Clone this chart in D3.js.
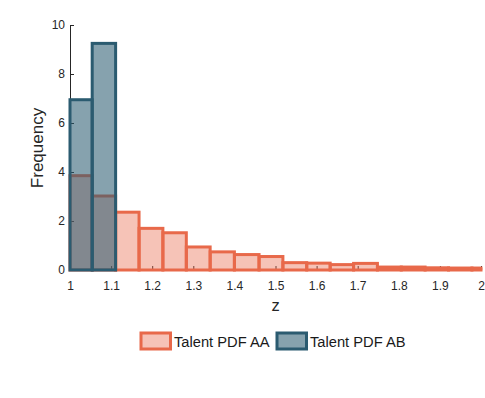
<!DOCTYPE html>
<html>
<head>
<meta charset="utf-8">
<script src="https://cdn.jsdelivr.net/npm/d3@7/dist/d3.min.js"></script>
<style>
  html, body { margin: 0; padding: 0; background: #fff; }
  svg { display: block; font-family: "Liberation Sans", Arial, Helvetica, sans-serif; }
</style>
</head>
<body>
<svg id="chart" width="485" height="398"></svg>
<script>
// ---- data ----
const binEdges = [1.0, 1.054, 1.111, 1.168, 1.226, 1.283, 1.341, 1.400, 1.460, 1.518,
                  1.576, 1.633, 1.690, 1.748, 1.806, 1.864, 1.921, 1.978, 2.035];
const countsAA = [3.85, 3.02, 2.36, 1.70, 1.52, 0.94, 0.74, 0.63, 0.55, 0.30,
                  0.28, 0.22, 0.27, 0.12, 0.12, 0.09, 0.08, 0.08];
const countsAB = [6.95, 9.25, 0, 0, 0, 0, 0, 0, 0, 0,
                  0, 0, 0, 0, 0, 0, 0, 0];
const xTicks = [1, 1.1, 1.2, 1.3, 1.4, 1.5, 1.6, 1.7, 1.8, 1.9, 2];
const yTicks = [0, 2, 4, 6, 8, 10];
const seriesNames = ["Talent PDF AA", "Talent PDF AB"];

const colAA = "#e8694a", colAB = "#2b5b70";
const alphaAA = 0.4, alphaAB = 0.57;

const svg = d3.select("#chart");
svg.append("rect").attr("width", 485).attr("height", 398).attr("fill", "#fff");

const x = d3.scaleLinear().domain([1, 2]).range([70, 481]);
const y = d3.scaleLinear().domain([0, 10]).range([270, 25]);

// axes (drawn under the data, MATLAB-style inward ticks)
const axisColor = "#262626";
const gy = svg.append("g").attr("transform", `translate(${x(1)},0)`)
  .call(d3.axisLeft(y).tickValues(yTicks).tickSizeInner(-4).tickSizeOuter(0).tickPadding(5));
const gx = svg.append("g").attr("transform", `translate(0,${y(0)})`)
  .call(d3.axisBottom(x).tickValues(xTicks).tickSizeInner(-4).tickSizeOuter(0).tickPadding(11)
        .tickFormat(d => d3.format("~g")(d)));
[gx, gy].forEach(g => {
  g.selectAll("path.domain").attr("stroke", axisColor).attr("stroke-width", 1);
  g.selectAll(".tick line").attr("stroke", axisColor).attr("stroke-width", 1);
  g.selectAll(".tick text").attr("fill", axisColor).attr("font-size", "12px")
    .attr("font-family", "Liberation Sans, Arial, sans-serif");
});

// clip to axes horizontally
svg.append("clipPath").attr("id", "clip")
  .append("rect").attr("x", 60).attr("y", 0).attr("width", 481 - 60 + 1.5).attr("height", 300);

const plot = svg.append("g").attr("clip-path", "url(#clip)");

function drawHist(counts, col, alpha) {
  const data = counts.map((c, i) => ({ x0: binEdges[i], x1: binEdges[i + 1], c }));
  plot.append("g").selectAll("rect").data(data).join("rect")
    .attr("x", d => x(d.x0))
    .attr("width", d => x(d.x1) - x(d.x0))
    .attr("y", d => y(d.c))
    .attr("height", d => y(0) - y(d.c))
    .attr("fill", col).attr("fill-opacity", alpha)
    .attr("stroke", col).attr("stroke-width", 3);
}
drawHist(countsAA, colAA, alphaAA);
drawHist(countsAB, colAB, alphaAB);

// axis labels
svg.append("text").attr("transform", "translate(42.5,148) rotate(-90)")
  .attr("text-anchor", "middle").attr("font-size", "17px").attr("fill", axisColor)
  .text("Frequency");
svg.append("text").attr("x", (x(1) + x(2)) / 2).attr("y", 311)
  .attr("text-anchor", "middle").attr("font-size", "16.5px").attr("fill", axisColor)
  .text("z");

// legend
const legend = [
  { name: seriesNames[0], col: colAA, a: alphaAA, x: 141 },
  { name: seriesNames[1], col: colAB, a: alphaAB, x: 277 }
];
const lg = svg.append("g");
legend.forEach(l => {
  lg.append("rect").attr("x", l.x).attr("y", 333).attr("width", 29.5).attr("height", 16)
    .attr("fill", l.col).attr("fill-opacity", l.a).attr("stroke", l.col).attr("stroke-width", 3);
  lg.append("text").attr("x", l.x + 33).attr("y", 346.5).attr("font-size", "14.7px")
    .attr("fill", "#1a1a1a").text(l.name);
});
</script>
</body>
</html>
